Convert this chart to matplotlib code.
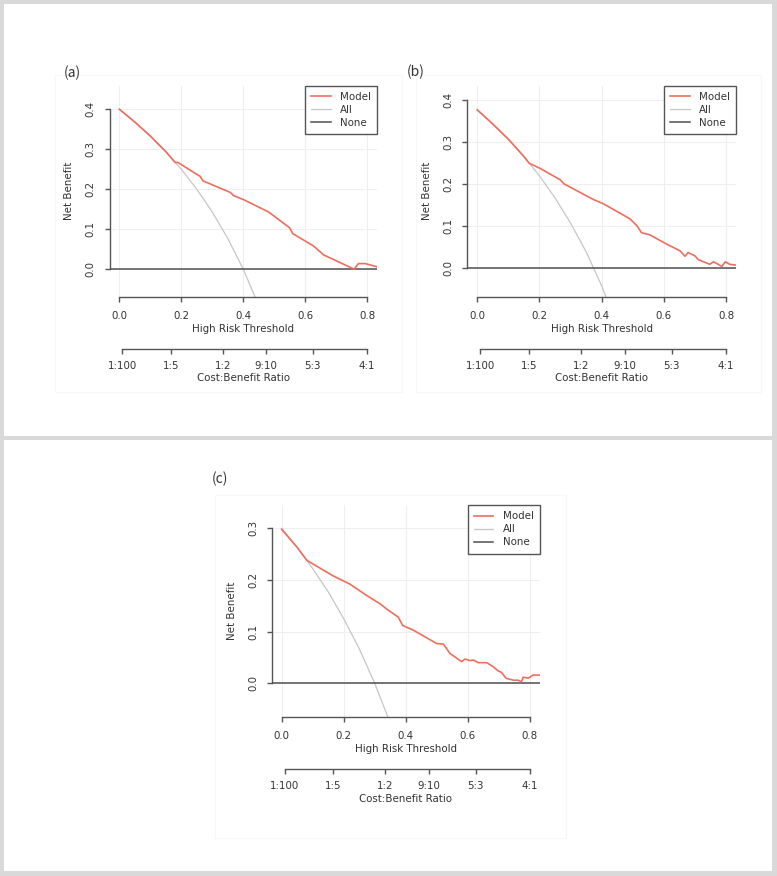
#!/usr/bin/env python3

import matplotlib

matplotlib.use("Agg")
import matplotlib.pyplot as plt
from matplotlib.lines import Line2D
from matplotlib.patches import Rectangle

# panel (a)
a_model_x = [0.0, 0.05, 0.10, 0.15, 0.18, 0.189, 0.261, 0.27, 0.358, 0.369, 0.401,
             0.482, 0.549, 0.56, 0.627, 0.659, 0.758, 0.772, 0.794, 0.832]
a_model_y = [0.400, 0.368, 0.333, 0.294, 0.267, 0.267, 0.232, 0.221, 0.192, 0.184, 0.174,
             0.143, 0.104, 0.089, 0.058, 0.036, 0.000, 0.014, 0.014, 0.006]
a_all_x = [0.0, 0.05, 0.10, 0.15, 0.20, 0.25, 0.30, 0.35, 0.40, 0.45]
a_all_y = [0.400, 0.368, 0.333, 0.294, 0.250, 0.200, 0.143, 0.077, 0.000, -0.091]

# panel (b)
b_model_x = [0.0, 0.05, 0.10, 0.15, 0.167, 0.2015, 0.266, 0.279, 0.373, 0.405, 0.491,
             0.514, 0.528, 0.555, 0.609, 0.652, 0.668, 0.678, 0.70, 0.711, 0.748,
             0.759, 0.77, 0.786, 0.798, 0.812, 0.832]
b_model_y = [0.376, 0.342, 0.306, 0.265, 0.249, 0.237, 0.210, 0.200, 0.163, 0.153, 0.117,
             0.100, 0.084, 0.079, 0.057, 0.041, 0.028, 0.037, 0.029, 0.020, 0.009,
             0.015, 0.011, 0.004, 0.015, 0.009, 0.007]
b_all_x = [0.0, 0.05, 0.10, 0.15, 0.20, 0.25, 0.30, 0.35, 0.40, 0.45]
b_all_y = [0.375, 0.342, 0.306, 0.265, 0.219, 0.167, 0.107, 0.039, -0.042, -0.136]

# panel (c)
c_model_x = [0.0, 0.05, 0.081, 0.129, 0.166, 0.22, 0.274, 0.317, 0.338, 0.376, 0.39,
             0.424, 0.50, 0.521, 0.532, 0.542, 0.58, 0.591, 0.607, 0.618, 0.634,
             0.661, 0.682, 0.698, 0.709, 0.723, 0.747, 0.763, 0.773, 0.779, 0.795,
             0.811, 0.832]
c_model_y = [0.298, 0.263, 0.238, 0.221, 0.208, 0.192, 0.170, 0.154, 0.144, 0.128, 0.112,
             0.103, 0.077, 0.076, 0.067, 0.058, 0.042, 0.047, 0.044, 0.045, 0.040,
             0.040, 0.032, 0.024, 0.021, 0.010, 0.006, 0.006, 0.003, 0.012, 0.010,
             0.016, 0.016]
c_all_x = [0.0, 0.05, 0.10, 0.15, 0.20, 0.25, 0.30, 0.35, 0.40]
c_all_y = [0.300, 0.263, 0.222, 0.177, 0.125, 0.067, 0.000, -0.077, -0.167]

x_ticks = [0.0, 0.2, 0.4, 0.6, 0.8]
cb_labels = ["1:100", "1:5", "1:2", "9:10", "5:3", "4:1"]
cb_ratios = [(1, 100), (1, 5), (1, 2), (9, 10), (5, 3), (4, 1)]

MODEL_C = "#EE6E5E"
ALL_C = "#C6C6C6"
NONE_C = "#505050"
AXIS_C = "#555555"
TEXT_C = "#333333"
FS = 7.4

W, H = 777, 876


def px_rect(left, top, right, bottom):
    return [left / W, 1 - bottom / H, (right - left) / W, (bottom - top) / H]


def draw_panel(fig, rect, label, label_xy, mx, my, ax_x, ax_y, ylim, yticks):
    ax = fig.add_axes(px_rect(*rect))
    ax.set_facecolor("none")
    ax.set_xlim(-0.032, 0.832)
    ax.set_ylim(*ylim)

    ax.plot(ax_x, ax_y, color=ALL_C, lw=0.9, zorder=2)
    ax.axhline(0, color=NONE_C, lw=1.1, zorder=3)
    ax.plot(mx, my, color=MODEL_C, lw=1.2, zorder=4)

    for side in ["top", "right"]:
        ax.spines[side].set_visible(False)
    ax.spines["left"].set_bounds(yticks[0], yticks[-1])
    ax.spines["bottom"].set_bounds(x_ticks[0], x_ticks[-1])
    for side in ["left", "bottom"]:
        ax.spines[side].set_color(AXIS_C)
        ax.spines[side].set_linewidth(1.0)

    ax.set_xticks(x_ticks, [f"{t:.1f}" for t in x_ticks])
    ax.set_yticks(yticks, [f"{t:.1f}" for t in yticks])
    ax.tick_params(axis="both", direction="out", length=3.5, width=1.0,
                   color=AXIS_C, labelsize=FS, labelcolor=TEXT_C)
    ax.tick_params(axis="x", pad=6.5)
    ax.tick_params(axis="y", pad=6.5, labelrotation=90)
    for lab in ax.get_yticklabels():
        lab.set_va("center")

    ax.grid(True, color="#EFEFEF", lw=0.8)
    ax.set_axisbelow(True)

    ax.set_xlabel("High Risk Threshold", fontsize=FS, color=TEXT_C, labelpad=2)
    ax.set_ylabel("Net Benefit", fontsize=FS, color=TEXT_C, labelpad=8)

    sec = ax.secondary_xaxis(-0.245)
    cb_pos = [a / (a + b) for a, b in cb_ratios]
    sec.set_xticks(cb_pos, cb_labels)
    sec.spines["bottom"].set_bounds(cb_pos[0], cb_pos[-1])
    sec.spines["bottom"].set_color(AXIS_C)
    sec.spines["bottom"].set_linewidth(1.0)
    sec.tick_params(direction="out", length=3.5, width=1.0, color=AXIS_C,
                    labelsize=FS, labelcolor=TEXT_C, pad=5)
    sec.set_xlabel("Cost:Benefit Ratio", fontsize=FS, color=TEXT_C, labelpad=2)

    handles = [
        Line2D([], [], color=MODEL_C, lw=1.2),
        Line2D([], [], color=ALL_C, lw=0.9),
        Line2D([], [], color=NONE_C, lw=1.1),
    ]
    leg = ax.legend(handles, ["Model", "All", "None"], loc="upper right",
                    bbox_to_anchor=(1, 1), borderaxespad=0, fancybox=False,
                    edgecolor=AXIS_C, framealpha=1, fontsize=FS,
                    handlelength=1.9, handletextpad=0.9, labelspacing=0.3,
                    borderpad=0.6)
    leg.get_frame().set_linewidth(1.0)
    for t in leg.get_texts():
        t.set_color(TEXT_C)

    fig.text(label_xy[0] / W, 1 - label_xy[1] / H, label, fontsize=10,
             color=TEXT_C, ha="center", va="center",
             family=["Noto Sans CJK SC", "DejaVu Sans"])


fig = plt.figure(figsize=(W / 100, H / 100), dpi=100)
fig.patch.set_facecolor("#D9D9D9")

# white panel cards with faint sub-boxes
for l, t, r, b in [(4, 4, 772, 436), (4, 440, 772, 871)]:
    fig.add_artist(Rectangle((l / W, 1 - b / H), (r - l) / W, (b - t) / H,
                             transform=fig.transFigure, facecolor="white",
                             edgecolor="none", zorder=0))
for l, t, r, b in [(55, 75, 402, 392), (416, 75, 761, 392), (215, 495, 566, 838)]:
    fig.add_artist(Rectangle((l / W, 1 - b / H), (r - l) / W, (b - t) / H,
                             transform=fig.transFigure, facecolor="none",
                             edgecolor="#F7F7F7", lw=0.8, zorder=0.5))

draw_panel(fig, (109.5, 85.5, 377, 297), "(a)", (72, 73),
           a_model_x, a_model_y, a_all_x, a_all_y,
           (-0.0696, 0.4596), [0.0, 0.1, 0.2, 0.3, 0.4])
draw_panel(fig, (467.3, 85.5, 736, 297), "(b)", (416, 72),
           b_model_x, b_model_y, b_all_x, b_all_y,
           (-0.0686, 0.4336), [0.0, 0.1, 0.2, 0.3, 0.4])
draw_panel(fig, (271.8, 505, 539.7, 717), "(c)", (220, 479),
           c_model_x, c_model_y, c_all_x, c_all_y,
           (-0.0652, 0.3452), [0.0, 0.1, 0.2, 0.3])

fig.savefig("out.png", dpi=100)
